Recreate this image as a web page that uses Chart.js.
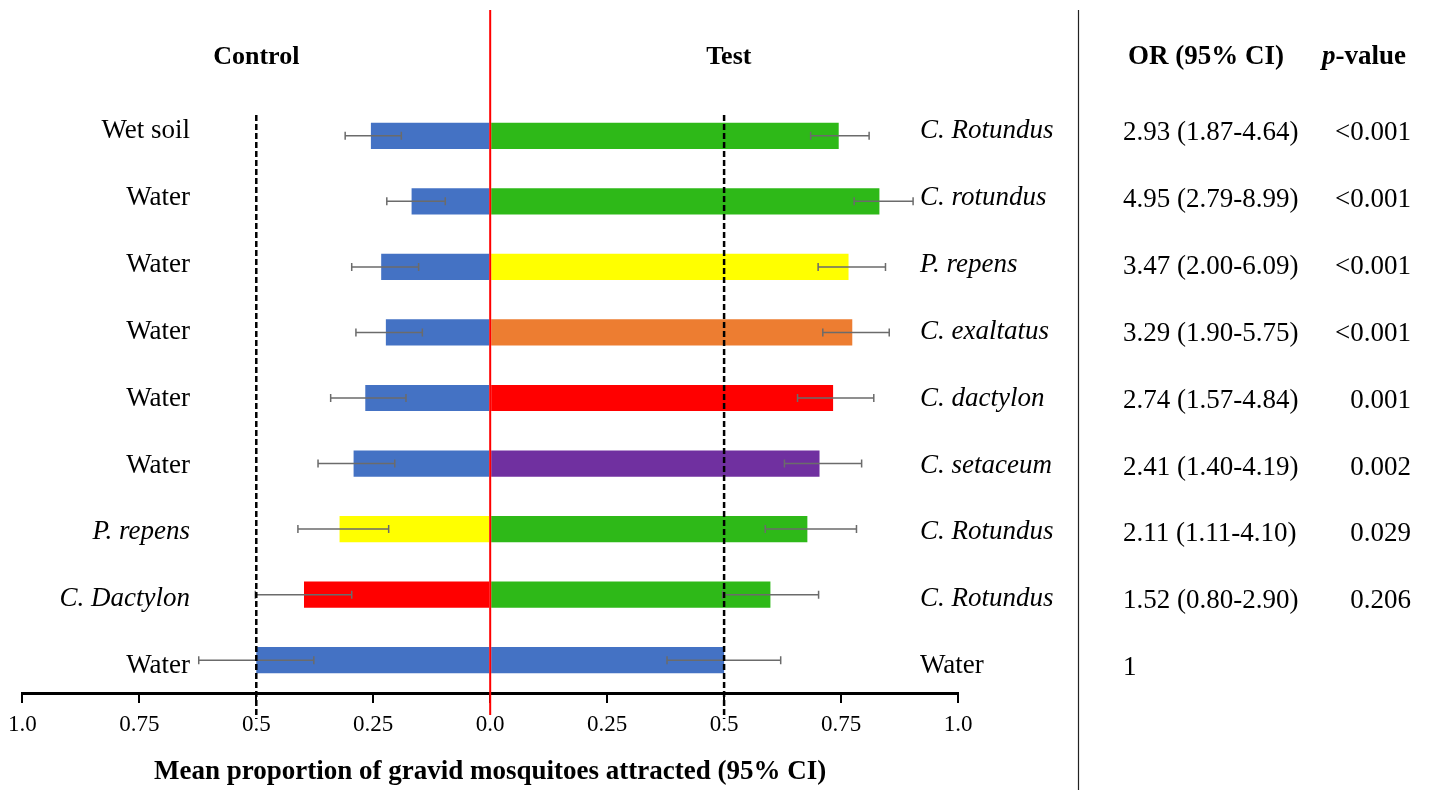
<!DOCTYPE html>
<html>
<head>
<meta charset="utf-8">
<script src="https://cdn.jsdelivr.net/npm/chart.js@4.4.1/dist/chart.umd.min.js"></script>
<style>
  html, body { margin: 0; padding: 0; background: #fff; }
</style>
</head>
<body>
<canvas id="oviChart" width="1431" height="790"></canvas>
<script>
// rows, top to bottom
const controlLabels = ["Wet soil", "Water", "Water", "Water", "Water", "Water", "P. repens", "C. Dactylon", "Water"];
const testLabels = ["C. Rotundus", "C. rotundus", "P. repens", "C. exaltatus", "C. dactylon", "C. setaceum", "C. Rotundus", "C. Rotundus", "Water"];

// mean proportion attracted + 95% CI
const controlMean = [0.255, 0.168, 0.233, 0.223, 0.267, 0.292, 0.322, 0.398, 0.50];
const controlLow  = [0.190, 0.096, 0.153, 0.145, 0.180, 0.204, 0.217, 0.296, 0.377];
const controlHigh = [0.310, 0.221, 0.296, 0.287, 0.341, 0.368, 0.411, 0.502, 0.623];
const testMean = [0.745, 0.832, 0.766, 0.774, 0.733, 0.704, 0.678, 0.599, 0.50];
const testLow  = [0.685, 0.778, 0.701, 0.711, 0.657, 0.629, 0.588, 0.497, 0.378];
const testHigh = [0.810, 0.904, 0.845, 0.853, 0.820, 0.794, 0.783, 0.702, 0.621];

const orText = ["2.93 (1.87-4.64)", "4.95 (2.79-8.99)", "3.47 (2.00-6.09)", "3.29 (1.90-5.75)",
  "2.74 (1.57-4.84)", "2.41 (1.40-4.19)", "2.11 (1.11-4.10)", "1.52 (0.80-2.90)", "1"];
const pValues = ["<0.001", "<0.001", "<0.001", "<0.001", "0.001", "0.002", "0.029", "0.206", ""];

const xTicks = [-1, -0.75, -0.5, -0.25, 0, 0.25, 0.5, 0.75, 1];
const xTickText = ["1.0", "0.75", "0.5", "0.25", "0.0", "0.25", "0.5", "0.75", "1.0"];
const axisTitle = "Mean proportion of gravid mosquitoes attracted (95% CI)";

// colours
const BLUE = "#4472c4", GREEN = "#2eb918", YELLOW = "#ffff00", ORANGE = "#ed7d31", RED = "#ff0000", PURPLE = "#7030a0";
const controlColors = [BLUE, BLUE, BLUE, BLUE, BLUE, BLUE, YELLOW, RED, BLUE];
const testColors = [GREEN, GREEN, YELLOW, ORANGE, RED, PURPLE, GREEN, GREEN, BLUE];

const SERIF = "'Liberation Serif', 'Times New Roman', serif";
const plainNames = ["Water", "Wet soil"];

// text rows don't sit exactly on the bars in the original
const textTop = 131;
const textStep = 66.9;

function labelFont(name) {
  const italic = plainNames.indexOf(name) === -1 ? "italic " : "";
  return italic + "27px " + SERIF;
}

//error bars
const errorBars = {
  id: "errorBars",
  afterDatasetsDraw(chart) {
    const { ctx, scales: { x, y } } = chart;
    ctx.save();
    ctx.strokeStyle = "#6b6b6b";
    ctx.lineWidth = 1.5;
    controlLabels.forEach((c, i) => {
      const yc = y.getPixelForValue(i);
      const pairs = [[-controlLow[i], -controlHigh[i]], [testLow[i], testHigh[i]]];
      pairs.forEach(([a, b]) => {
        const xa = x.getPixelForValue(a);
        const xb = x.getPixelForValue(b);
        ctx.beginPath();
        ctx.moveTo(xa, yc); ctx.lineTo(xb, yc);
        ctx.moveTo(xa, yc - 4); ctx.lineTo(xa, yc + 4);
        ctx.moveTo(xb, yc - 4); ctx.lineTo(xb, yc + 4);
        ctx.stroke();
      });
    });
    ctx.restore();
  }
};

//reference lines + all the text around the plot
const overlay = {
  id: "overlay",
  afterDraw(chart) {
    const { ctx, chartArea, scales: { x } } = chart;
    ctx.save();

    // dashed 0.5 lines
    ctx.strokeStyle = "#000";
    ctx.lineWidth = 2.5;
    ctx.setLineDash([6, 3]);
    [-0.5, 0.5].forEach(v => {
      const px = x.getPixelForValue(v);
      ctx.beginPath();
      ctx.moveTo(px, 115);
      ctx.lineTo(px, chartArea.bottom + 26);
      ctx.stroke();
    });
    ctx.setLineDash([]);

    // red zero line
    ctx.strokeStyle = RED;
    ctx.lineWidth = 2;
    const x0 = x.getPixelForValue(0);
    ctx.beginPath();
    ctx.moveTo(x0, 10);
    ctx.lineTo(x0, chartArea.bottom + 22);
    ctx.stroke();

    // separator before the table
    ctx.strokeStyle = "#222";
    ctx.lineWidth = 1.2;
    ctx.beginPath();
    ctx.moveTo(1078.5, 10);
    ctx.lineTo(1078.5, 790);
    ctx.stroke();

    ctx.fillStyle = "#000";
    ctx.textBaseline = "middle";

    // headers
    ctx.font = "bold 26px " + SERIF;
    ctx.textAlign = "center";
    ctx.fillText("Control", x.getPixelForValue(-0.5), 57);
    ctx.fillText("Test", x.getPixelForValue(0.51), 57);
    ctx.font = "bold 27px " + SERIF;
    ctx.fillText("OR (95% CI)", 1206, 57);
    ctx.textAlign = "left";
    ctx.font = "italic bold 27px " + SERIF;
    ctx.fillText("p", 1322, 57);
    const pw = ctx.measureText("p").width;
    ctx.font = "bold 27px " + SERIF;
    ctx.fillText("-value", 1322 + pw, 57);

    // row labels and table
    controlLabels.forEach((name, i) => {
      const ty = textTop + i * textStep;
      ctx.font = labelFont(name);
      ctx.textAlign = "right";
      ctx.fillText(name, 190, ty);
      ctx.font = labelFont(testLabels[i]);
      ctx.textAlign = "left";
      ctx.fillText(testLabels[i], 920, ty);
      ctx.font = "27px " + SERIF;
      ctx.fillText(orText[i], 1123, ty + 2);
      ctx.textAlign = "right";
      ctx.fillText(pValues[i], 1411, ty + 2);
    });
    ctx.restore();
  }
};

const ctx = document.getElementById("oviChart");

new Chart(ctx, {
  type: "bar",
  data: {
    labels: controlLabels,
    datasets: [
      {
        label: "Control",
        data: controlMean.map(v => -v),
        backgroundColor: controlColors,
        borderWidth: 0,
        barPercentage: 0.4,
        categoryPercentage: 1
      },
      {
        label: "Test",
        data: testMean,
        backgroundColor: testColors,
        borderWidth: 0,
        barPercentage: 0.4,
        categoryPercentage: 1
      }
    ]
  },
  options: {
    responsive: false,
    animation: false,
    indexAxis: "y",
    layout: { padding: { left: 22, right: 473, top: 103, bottom: 0 } },
    plugins: {
      legend: { display: false },
      tooltip: { enabled: false }
    },
    scales: {
      y: { stacked: true, display: false },
      x: {
        type: "linear",
        stacked: true,
        min: -1,
        max: 1,
        afterBuildTicks: (axis) => {
          axis.ticks = xTicks.map(v => ({ value: v }));
        },
        border: { display: true, color: "#000", width: 3 },
        grid: { drawOnChartArea: false, drawTicks: true, tickLength: 10, color: "#000", lineWidth: 2 },
        ticks: {
          color: "#000",
          padding: 8,
          maxRotation: 0,
          autoSkip: false,
          font: { family: SERIF, size: 23 },
          callback: (v, i) => xTickText[i]
        },
        title: {
          display: true,
          text: axisTitle,
          color: "#000",
          font: { family: SERIF, size: 27, weight: "bold" },
          padding: { top: 9, bottom: 2 }
        }
      }
    }
  },
  plugins: [errorBars, overlay]
});
</script>
</body>
</html>
